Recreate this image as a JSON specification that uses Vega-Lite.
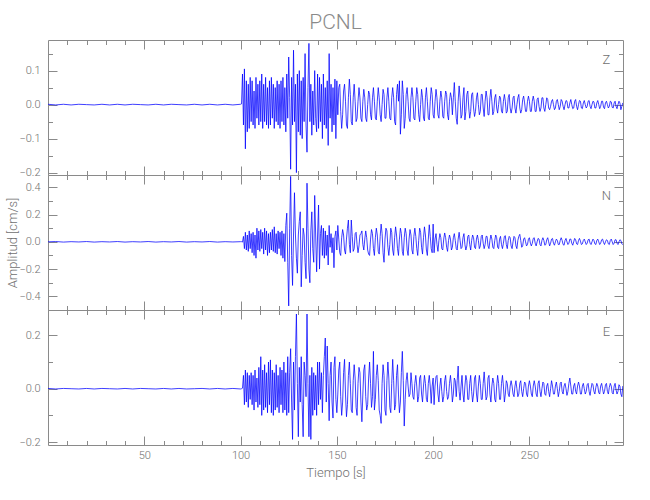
{
"$schema": "https://vega.github.io/schema/vega-lite/v6.json",
"background": "white",
"padding": {"left": 6, "right": 5, "top": 11, "bottom": 5},
"spacing": 0,
"bounds": "flush",
"config": {
 "view": {"stroke": "#8a8a8a", "strokeWidth": 1},
 "axis": {"domain": false, "grid": false, "tickColor": "#8a8a8a", "tickWidth": 1, "labelColor": "#707070", "labelFont": "Roboto", "labelFontWeight": 300, "labelFontSize": 11, "titleColor": "#707070", "titleFont": "Roboto", "titleFontWeight": 300, "titleFontSize": 13, "minExtent": 0}
},
"data": {"values": [
{"t":0,"z":0.001,"n":0,"e":0.001},{"t":4,"z":-0.001,"n":0.002,"e":-0.001},{"t":8,"z":0.001,"n":-0.002,"e":0.001},{"t":12,"z":-0.001,"n":0.001,"e":0},{"t":16,"z":0.001,"n":-0.001,"e":-0.001},{"t":20,"z":0,"n":0.002,"e":0.001},{"t":24,"z":-0.001,"n":-0.002,"e":-0.001},{"t":28,"z":0.001,"n":0.001,"e":0.001},{"t":32,"z":-0.001,"n":-0.001,"e":0},{"t":36,"z":0.001,"n":0.002,"e":-0.001},{"t":40,"z":-0.001,"n":-0.002,"e":0.001},{"t":44,"z":0.001,"n":0.001,"e":-0.001},{"t":48,"z":0,"n":-0.001,"e":0.001},{"t":52,"z":-0.001,"n":0.002,"e":0},{"t":56,"z":0.001,"n":-0.002,"e":-0.001},{"t":60,"z":-0.001,"n":0.001,"e":0.001},{"t":64,"z":0.001,"n":-0.001,"e":-0.001},{"t":68,"z":0,"n":0.002,"e":0.001},{"t":72,"z":-0.001,"n":-0.002,"e":-0.001},{"t":76,"z":0.001,"n":0.001,"e":0},{"t":80,"z":-0.001,"n":-0.001,"e":0.001},{"t":84,"z":0.001,"n":0.002,"e":-0.001},{"t":88,"z":-0.001,"n":-0.002,"e":0.001},{"t":92,"z":0.001,"n":0.001,"e":-0.001},{"t":96,"z":-0.001,"n":-0.001,"e":0.001},{"t":100,"z":0.001,"n":0.001,"e":-0.001},
{"t":100.5,"z":0.002,"n":0.001,"e":0},{"t":101,"z":0.09,"n":-0.002,"e":0.002},{"t":101.5,"z":-0.06,"n":0.04,"e":0.05},{"t":102,"z":0.105,"n":-0.05,"e":-0.06},{"t":102.5,"z":-0.13,"n":0.07,"e":0.07},{"t":103,"z":0.07,"n":-0.06,"e":-0.05},{"t":103.5,"z":-0.08,"n":0.05,"e":0.06},{"t":104,"z":0.06,"n":-0.07,"e":-0.07},{"t":104.5,"z":-0.07,"n":0.08,"e":0.05},{"t":105,"z":0.08,"n":-0.05,"e":-0.04},
{"t":105.5,"z":-0.05,"n":0.06,"e":0.06},{"t":106,"z":0.07,"n":-0.08,"e":-0.06},{"t":106.5,"z":-0.06,"n":0.07,"e":0.05},{"t":107,"z":0.04,"n":-0.1,"e":-0.08},{"t":107.5,"z":-0.07,"n":0.05,"e":0.07},{"t":108,"z":0.08,"n":-0.12,"e":-0.05},{"t":108.5,"z":-0.04,"n":0.1,"e":0.04},{"t":109,"z":0.06,"n":-0.06,"e":-0.07},{"t":109.5,"z":-0.06,"n":0.08,"e":0.08},{"t":110,"z":0.07,"n":-0.07,"e":-0.06},
{"t":110.5,"z":-0.05,"n":0.09,"e":0.12},{"t":111,"z":0.09,"n":-0.05,"e":-0.1},{"t":111.5,"z":-0.07,"n":0.07,"e":0.07},{"t":112,"z":0.06,"n":-0.09,"e":-0.08},{"t":112.5,"z":-0.05,"n":0.1,"e":0.09},{"t":113,"z":0.08,"n":-0.06,"e":-0.07},{"t":113.5,"z":-0.06,"n":0.08,"e":0.06},{"t":114,"z":0.05,"n":-0.1,"e":-0.09},{"t":114.5,"z":-0.07,"n":0.06,"e":0.1},{"t":115,"z":0.07,"n":-0.08,"e":-0.06},
{"t":115.5,"z":-0.06,"n":0.07,"e":0.108},{"t":116,"z":0.08,"n":-0.06,"e":-0.09},{"t":116.5,"z":-0.04,"n":0.09,"e":0.07},{"t":117,"z":0.06,"n":-0.07,"e":-0.1},{"t":117.5,"z":-0.07,"n":0.11,"e":0.06},{"t":118,"z":0.05,"n":-0.08,"e":-0.08},{"t":118.5,"z":-0.05,"n":0.06,"e":0.09},{"t":119,"z":0.07,"n":-0.09,"e":-0.07},{"t":119.5,"z":-0.06,"n":0.08,"e":0.05},{"t":120,"z":0.06,"n":-0.05,"e":-0.09},
{"t":120.5,"z":-0.07,"n":0.07,"e":0.08},{"t":121,"z":0.07,"n":-0.1,"e":-0.06},{"t":121.5,"z":-0.05,"n":0.08,"e":0.07},{"t":122,"z":0.08,"n":-0.12,"e":-0.09},{"t":122.5,"z":-0.06,"n":0.06,"e":0.1},{"t":123,"z":0.05,"n":-0.145,"e":-0.08},{"t":123.5,"z":-0.08,"n":0.12,"e":0.06},{"t":124,"z":0.09,"n":0.21,"e":-0.1},{"t":124.5,"z":-0.04,"n":-0.15,"e":0.12},{"t":125,"z":0.14,"n":-0.47,"e":-0.09},
{"t":125.5,"z":0.02,"n":0.1,"e":0.06},{"t":126,"z":-0.19,"n":0.48,"e":0.15},{"t":126.5,"z":0.08,"n":-0.1,"e":-0.05},{"t":127,"z":-0.06,"n":-0.32,"e":-0.19},{"t":127.5,"z":0.16,"n":0.05,"e":0.1},{"t":128,"z":-0.05,"n":0.36,"e":-0.08},{"t":128.5,"z":0.06,"n":0.05,"e":0.12},{"t":129,"z":-0.2,"n":-0.12,"e":0.28},{"t":129.5,"z":0.09,"n":-0.23,"e":0.02},{"t":130,"z":-0.08,"n":0.05,"e":-0.18},
{"t":130.5,"z":0.1,"n":0.15,"e":0.08},{"t":131,"z":-0.09,"n":0.22,"e":-0.05},{"t":131.5,"z":0.07,"n":-0.33,"e":0.12},{"t":132,"z":-0.1,"n":-0.1,"e":-0.06},{"t":132.5,"z":0.08,"n":0.1,"e":-0.18},{"t":133,"z":-0.05,"n":0.05,"e":0.1},{"t":133.5,"z":0.15,"n":-0.15,"e":0.05},{"t":134,"z":-0.06,"n":-0.27,"e":-0.03},{"t":134.5,"z":-0.14,"n":0.43,"e":0.28},{"t":135,"z":0.05,"n":0.1,"e":0.02},
{"t":135.5,"z":0.18,"n":-0.2,"e":-0.18},{"t":136,"z":-0.05,"n":-0.3,"e":0.05},{"t":136.5,"z":0.06,"n":0.08,"e":-0.19},{"t":137,"z":-0.09,"n":0.22,"e":0.08},{"t":137.5,"z":0.04,"n":-0.05,"e":-0.1},{"t":138,"z":-0.06,"n":-0.15,"e":0.06},{"t":138.5,"z":0.1,"n":0.34,"e":-0.08},{"t":139,"z":-0.04,"n":0.05,"e":0.05},{"t":139.5,"z":-0.08,"n":-0.22,"e":-0.1},{"t":140,"z":0.09,"n":0.05,"e":0.1},
{"t":140.5,"z":-0.07,"n":0.27,"e":-0.06},{"t":141,"z":0.08,"n":-0.2,"e":0.1},{"t":141.5,"z":-0.05,"n":0.06,"e":-0.04},{"t":142,"z":0.06,"n":0.12,"e":0.06},{"t":142.5,"z":-0.1,"n":-0.1,"e":-0.09},{"t":143,"z":0.09,"n":0.1,"e":0.05},{"t":143.5,"z":-0.06,"n":-0.12,"e":0.12},{"t":144,"z":0.05,"n":0.08,"e":0.19},{"t":144.5,"z":-0.07,"n":-0.1,"e":-0.05},{"t":145,"z":0.07,"n":0.05,"e":0.16},
{"t":145.5,"z":-0.12,"n":-0.17,"e":0.02},{"t":146,"z":0.15,"n":0.12,"e":-0.12},{"t":146.5,"z":-0.04,"n":-0.04,"e":0.05},{"t":147,"z":0.06,"n":0.06,"e":0.1},{"t":147.5,"z":-0.08,"n":-0.08,"e":-0.05},{"t":148,"z":0.05,"n":0.03,"e":-0.11},{"t":148.5,"z":-0.06,"n":-0.19,"e":0.08},{"t":149,"z":0.075,"n":0.04,"e":0.12},{"t":149.5,"z":-0.1,"n":0.08,"e":-0.04},{"t":150,"z":0.07,"n":-0.06,"e":-0.09},
{"t":150.5,"z":-0.03,"n":0.12,"e":-0.02},{"t":151,"z":0.05,"n":0.02,"e":0.07},{"t":151.5,"z":0.06,"n":-0.08,"e":0.1},{"t":152,"z":-0.02,"n":-0.1,"e":-0.03},{"t":152.5,"z":-0.07,"n":0.03,"e":-0.1},{"t":153,"z":-0.03,"n":0.09,"e":-0.05},{"t":153.5,"z":0.04,"n":0.05,"e":0.06},{"t":154,"z":0.06,"n":-0.06,"e":0.11},{"t":154.5,"z":0.01,"n":-0.09,"e":-0.02},{"t":155,"z":-0.06,"n":0.02,"e":-0.105},
{"t":155.5,"z":-0.07,"n":0.1,"e":-0.06},{"t":156,"z":0.02,"n":0.16,"e":0.05},{"t":156.5,"z":0.075,"n":-0.02,"e":0.1},{"t":157,"z":0.03,"n":-0.08,"e":0.02},{"t":157.5,"z":-0.05,"n":0.16,"e":-0.08},{"t":158,"z":-0.06,"n":0.04,"e":-0.09},{"t":158.5,"z":0.02,"n":-0.07,"e":0.03},{"t":159,"z":0.06,"n":-0.05,"e":0.09},{"t":159.5,"z":0.01,"n":0.06,"e":0.04},{"t":160,"z":-0.05,"n":0.07,"e":-0.07},
{"t":160.5,"z":-0.04,"n":-0.02,"e":-0.1},{"t":161,"z":0.01,"n":-0.08,"e":0.02},{"t":161.5,"z":0.05,"n":-0.03,"e":0.08},{"t":162,"z":0.02,"n":0.05,"e":0.06},{"t":162.5,"z":-0.04,"n":0.06,"e":-0.05},{"t":163,"z":-0.05,"n":0.08,"e":-0.124},{"t":163.5,"z":0.01,"n":-0.02,"e":-0.02},{"t":164,"z":0.045,"n":-0.06,"e":0.07},{"t":164.5,"z":0.02,"n":0.02,"e":0.09},{"t":165,"z":-0.04,"n":0.08,"e":-0.03},
{"t":165.5,"z":-0.05,"n":0.03,"e":-0.08},{"t":166,"z":0,"n":-0.06,"e":-0.06},{"t":166.5,"z":0.04,"n":-0.09,"e":0.04},{"t":167,"z":0.03,"n":-0.1,"e":0.1},{"t":167.5,"z":-0.03,"n":0.02,"e":0.02},{"t":168,"z":-0.045,"n":0.09,"e":-0.07},{"t":168.5,"z":0.02,"n":0.06,"e":-0.03},{"t":169,"z":0.05,"n":-0.05,"e":0.14},{"t":169.5,"z":0.01,"n":-0.1,"e":-0.08},{"t":170,"z":-0.04,"n":0.03,"e":-0.04},
{"t":170.5,"z":-0.045,"n":0.1,"e":0.05},{"t":171,"z":0.01,"n":0.05,"e":0.09},{"t":171.5,"z":0.05,"n":-0.07,"e":0.03},{"t":172,"z":0.02,"n":-0.09,"e":-0.08},{"t":172.5,"z":-0.03,"n":0.04,"e":-0.1},{"t":173,"z":-0.05,"n":0.13,"e":-0.13},{"t":173.5,"z":0,"n":0.06,"e":0.02},{"t":174,"z":0.045,"n":-0.08,"e":0.09},{"t":174.5,"z":0.03,"n":-0.15,"e":0.05},{"t":175,"z":-0.04,"n":0.02,"e":-0.08},
{"t":175.5,"z":-0.04,"n":0.1,"e":-0.1},{"t":176,"z":0.02,"n":0.08,"e":0.03},{"t":176.5,"z":0.05,"n":-0.04,"e":0.1},{"t":177,"z":0.01,"n":-0.1,"e":0.04},{"t":177.5,"z":-0.04,"n":-0.02,"e":-0.07},{"t":178,"z":-0.045,"n":0.1,"e":-0.09},{"t":178.5,"z":0.02,"n":0.07,"e":0.02},{"t":179,"z":0.05,"n":-0.06,"e":0.11},{"t":179.5,"z":0.02,"n":-0.1,"e":0.03},{"t":180,"z":-0.05,"n":0.03,"e":-0.08},
{"t":180.5,"z":-0.06,"n":0.11,"e":-0.06},{"t":181,"z":0.03,"n":0.05,"e":0.05},{"t":181.5,"z":0.06,"n":-0.05,"e":0.09},{"t":182,"z":0.01,"n":-0.1,"e":-0.02},{"t":182.5,"z":0.07,"n":0.02,"e":-0.09},{"t":183,"z":-0.087,"n":0.1,"e":-0.05},{"t":183.5,"z":-0.03,"n":0.06,"e":0.06},{"t":184,"z":0.07,"n":-0.07,"e":0.14},{"t":184.5,"z":0.03,"n":-0.1,"e":0.03},{"t":185,"z":-0.07,"n":0.03,"e":-0.14},
{"t":185.5,"z":-0.04,"n":0.1,"e":-0.04},{"t":186,"z":0.03,"n":0.06,"e":0.03},{"t":186.5,"z":0.05,"n":-0.06,"e":0.06},{"t":187,"z":0.01,"n":-0.1,"e":0.01},{"t":187.5,"z":-0.04,"n":0.02,"e":-0.03},{"t":188,"z":-0.05,"n":0.09,"e":-0.02},{"t":188.5,"z":0.02,"n":0.05,"e":0.06},{"t":189,"z":0.05,"n":-0.06,"e":0.02},{"t":189.5,"z":0.02,"n":-0.09,"e":-0.03},{"t":190,"z":-0.04,"n":0.04,"e":-0.04},
{"t":190.5,"z":-0.045,"n":0.1,"e":0.02},{"t":191,"z":0.01,"n":0.04,"e":0.05},{"t":191.5,"z":0.05,"n":-0.05,"e":0.01},{"t":192,"z":0.03,"n":-0.1,"e":-0.05},{"t":192.5,"z":-0.03,"n":0.01,"e":-0.03},{"t":193,"z":-0.05,"n":0.1,"e":0.04},{"t":193.5,"z":0,"n":0.07,"e":0.05},{"t":194,"z":0.045,"n":-0.04,"e":-0.02},{"t":194.5,"z":0.02,"n":-0.09,"e":-0.05},{"t":195,"z":-0.04,"n":0.03,"e":0.01},
{"t":195.5,"z":-0.048,"n":0.11,"e":0.05},{"t":196,"z":0.02,"n":0.05,"e":0.02},{"t":196.5,"z":0.05,"n":-0.06,"e":-0.04},{"t":197,"z":0.01,"n":-0.1,"e":-0.05},{"t":197.5,"z":-0.04,"n":0.02,"e":0.02},{"t":198,"z":-0.045,"n":0.125,"e":0.05},{"t":198.5,"z":0.01,"n":0.04,"e":0.01},{"t":199,"z":0.05,"n":-0.05,"e":-0.055},{"t":199.5,"z":0.03,"n":-0.08,"e":0.01},{"t":200,"z":-0.03,"n":0.13,"e":0.04},
{"t":200.5,"z":-0.04,"n":-0.08,"e":-0.06},{"t":201,"z":0.01,"n":0.02,"e":0.01},{"t":201.5,"z":0.045,"n":0.06,"e":0.045},{"t":202,"z":0.02,"n":-0.02,"e":0.05},{"t":202.5,"z":-0.03,"n":-0.07,"e":-0.02},{"t":203,"z":-0.04,"n":0.01,"e":-0.05},{"t":203.5,"z":0.01,"n":0.06,"e":0.01},{"t":204,"z":0.04,"n":0.03,"e":0.04},{"t":204.5,"z":0.02,"n":-0.05,"e":-0.01},{"t":205,"z":-0.035,"n":-0.06,"e":-0.05},
{"t":205.5,"z":-0.04,"n":0.02,"e":-0.03},{"t":206,"z":0.01,"n":0.065,"e":0.03},{"t":206.5,"z":0.04,"n":0.03,"e":0.05},{"t":207,"z":0.03,"n":-0.04,"e":-0.01},{"t":207.5,"z":-0.03,"n":-0.07,"e":-0.04},{"t":208,"z":-0.045,"n":0.01,"e":-0.03},{"t":208.5,"z":0.01,"n":0.05,"e":0.02},{"t":209,"z":0.035,"n":0.02,"e":0.05},{"t":209.5,"z":0.02,"n":-0.06,"e":0.01},{"t":210,"z":-0.03,"n":-0.04,"e":-0.05},
{"t":210.5,"z":0.02,"n":0.03,"e":-0.02},{"t":211,"z":0.065,"n":0.06,"e":0.04},{"t":211.5,"z":0.01,"n":0.01,"e":0.03},{"t":212,"z":-0.04,"n":-0.05,"e":-0.03},{"t":212.5,"z":-0.058,"n":-0.06,"e":0.03},{"t":213,"z":0.01,"n":0.02,"e":0.085},{"t":213.5,"z":0.055,"n":0.07,"e":-0.01},{"t":214,"z":0.02,"n":0.01,"e":-0.043},{"t":214.5,"z":-0.04,"n":-0.05,"e":0.01},{"t":215,"z":-0.03,"n":-0.04,"e":0.05},
{"t":215.5,"z":0.02,"n":0.03,"e":-0.02},{"t":216,"z":0.05,"n":0.06,"e":-0.05},{"t":216.5,"z":-0.045,"n":-0.02,"e":0.01},{"t":217,"z":-0.02,"n":-0.06,"e":0.05},{"t":217.5,"z":0.03,"n":-0.03,"e":0.03},{"t":218,"z":0.04,"n":0.04,"e":-0.04},{"t":218.5,"z":-0.01,"n":0.05,"e":-0.04},{"t":219,"z":-0.04,"n":-0.02,"e":0.02},{"t":219.5,"z":-0.02,"n":-0.06,"e":0.05},{"t":220,"z":0.03,"n":0.01,"e":-0.01},
{"t":220.5,"z":0.035,"n":0.05,"e":-0.05},{"t":221,"z":-0.01,"n":0.03,"e":-0.02},{"t":221.5,"z":-0.035,"n":-0.04,"e":0.04},{"t":222,"z":-0.02,"n":-0.05,"e":0.05},{"t":222.5,"z":0.02,"n":0.02,"e":-0.02},{"t":223,"z":0.035,"n":0.05,"e":-0.05},{"t":223.5,"z":0,"n":0.01,"e":0.01},{"t":224,"z":-0.03,"n":-0.05,"e":0.05},{"t":224.5,"z":-0.02,"n":-0.03,"e":0.02},{"t":225,"z":0.03,"n":0.04,"e":-0.04},
{"t":225.5,"z":0.03,"n":0.05,"e":-0.04},{"t":226,"z":-0.01,"n":-0.01,"e":0.02},{"t":226.5,"z":-0.035,"n":-0.05,"e":0.063},{"t":227,"z":0.01,"n":-0.02,"e":0.01},{"t":227.5,"z":0.04,"n":0.04,"e":-0.042},{"t":228,"z":0.02,"n":0.04,"e":-0.03},{"t":228.5,"z":-0.03,"n":-0.03,"e":0.04},{"t":229,"z":-0.03,"n":-0.05,"e":0.05},{"t":229.5,"z":0.02,"n":0.01,"e":-0.02},{"t":230,"z":0.045,"n":0.05,"e":-0.05},
{"t":230.5,"z":0.01,"n":0.02,"e":0.01},{"t":231,"z":-0.03,"n":-0.04,"e":0.04},{"t":231.5,"z":-0.02,"n":-0.05,"e":0.02},{"t":232,"z":0.02,"n":0.01,"e":-0.04},{"t":232.5,"z":0.03,"n":0.05,"e":-0.05},{"t":233,"z":-0.01,"n":0.03,"e":0.01},{"t":233.5,"z":-0.025,"n":-0.04,"e":0.05},{"t":234,"z":0,"n":-0.05,"e":0.02},{"t":234.5,"z":0.025,"n":0.02,"e":-0.04},{"t":235,"z":0.02,"n":0.04,"e":-0.04},
{"t":235.5,"z":-0.02,"n":-0.02,"e":0.02},{"t":236,"z":-0.025,"n":-0.05,"e":0.05},{"t":236.5,"z":0.01,"n":-0.01,"e":0.01},{"t":237,"z":0.03,"n":0.04,"e":-0.05},{"t":237.5,"z":0.01,"n":0.045,"e":-0.02},{"t":238,"z":-0.025,"n":-0.02,"e":0.03},{"t":238.5,"z":-0.02,"n":-0.05,"e":0.02},{"t":239,"z":0.02,"n":0.01,"e":-0.02},{"t":239.5,"z":0.03,"n":0.04,"e":-0.03},{"t":240,"z":-0.01,"n":0.03,"e":0.01},
{"t":240.5,"z":-0.025,"n":-0.03,"e":0.03},{"t":241,"z":-0.01,"n":-0.05,"e":0.01},{"t":241.5,"z":0.02,"n":0,"e":-0.02},{"t":242,"z":0.025,"n":0.04,"e":-0.03},{"t":242.5,"z":-0.01,"n":0.03,"e":0.01},{"t":243,"z":-0.025,"n":-0.03,"e":0.03},{"t":243.5,"z":0,"n":-0.05,"e":0},{"t":244,"z":0.02,"n":0.01,"e":-0.03},{"t":244.5,"z":0.03,"n":0.04,"e":-0.02},{"t":245,"z":-0.01,"n":0.055,"e":0.02},
{"t":245.5,"z":-0.025,"n":0.01,"e":0.03},{"t":246,"z":-0.015,"n":-0.04,"e":-0.01},{"t":246.5,"z":0.015,"n":-0.03,"e":-0.03},{"t":247,"z":0.025,"n":0.02,"e":0},{"t":247.5,"z":0.005,"n":0.03,"e":0.025},{"t":248,"z":-0.02,"n":0,"e":0.02},{"t":248.5,"z":-0.02,"n":-0.03,"e":-0.02},{"t":249,"z":0.01,"n":-0.02,"e":-0.03},{"t":249.5,"z":0.025,"n":0.02,"e":0.01},{"t":250,"z":0.01,"n":0.03,"e":0.03},
{"t":250.5,"z":-0.02,"n":-0.01,"e":0.01},{"t":251,"z":-0.02,"n":-0.03,"e":-0.02},{"t":251.5,"z":0.01,"n":-0.01,"e":-0.03},{"t":252,"z":0.025,"n":0.025,"e":0.01},{"t":252.5,"z":0.01,"n":0.03,"e":0.03},{"t":253,"z":-0.02,"n":-0.01,"e":0.01},{"t":253.5,"z":-0.02,"n":-0.03,"e":-0.02},{"t":254,"z":0.015,"n":0,"e":-0.03},{"t":254.5,"z":0.02,"n":0.025,"e":0.02},{"t":255,"z":-0.005,"n":0.02,"e":0.03},
{"t":255.5,"z":-0.02,"n":-0.02,"e":-0.01},{"t":256,"z":-0.01,"n":-0.03,"e":-0.03},{"t":256.5,"z":0.02,"n":0.01,"e":0},{"t":257,"z":0.02,"n":0.03,"e":0.025},{"t":257.5,"z":-0.01,"n":0.01,"e":0.02},{"t":258,"z":-0.02,"n":-0.025,"e":-0.02},{"t":258.5,"z":0,"n":-0.02,"e":-0.025},{"t":259,"z":0.02,"n":0.015,"e":0.01},{"t":259.5,"z":0.015,"n":0.03,"e":0.02},{"t":260,"z":-0.01,"n":0,"e":-0.01},
{"t":260.5,"z":-0.015,"n":-0.03,"e":-0.03},{"t":261,"z":-0.005,"n":-0.01,"e":0},{"t":261.5,"z":0.01,"n":0.02,"e":0.03},{"t":262,"z":0.015,"n":0.025,"e":0.01},{"t":262.5,"z":0,"n":-0.01,"e":-0.02},{"t":263,"z":-0.015,"n":-0.025,"e":-0.02},{"t":263.5,"z":-0.01,"n":0,"e":0.01},{"t":264,"z":0.01,"n":0.02,"e":0.025},{"t":264.5,"z":0.015,"n":0.01,"e":0},{"t":265,"z":0,"n":-0.02,"e":-0.03},
{"t":265.5,"z":-0.015,"n":-0.02,"e":-0.01},{"t":266,"z":-0.005,"n":0.01,"e":0.02},{"t":266.5,"z":0.015,"n":0.03,"e":0.025},{"t":267,"z":0.01,"n":0.01,"e":-0.01},{"t":267.5,"z":-0.005,"n":-0.02,"e":-0.02},{"t":268,"z":-0.015,"n":-0.025,"e":0.01},{"t":268.5,"z":0,"n":0.01,"e":0.02},{"t":269,"z":0.012,"n":0.025,"e":0},{"t":269.5,"z":0.01,"n":0,"e":-0.025},{"t":270,"z":-0.01,"n":-0.02,"e":-0.01},
{"t":270.5,"z":-0.01,"n":-0.01,"e":0.02},{"t":271,"z":0.005,"n":0.02,"e":0.04},{"t":271.5,"z":0.015,"n":0.02,"e":0.01},{"t":272,"z":0,"n":-0.01,"e":-0.02},{"t":272.5,"z":-0.012,"n":-0.025,"e":-0.02},{"t":273,"z":-0.01,"n":0,"e":0.01},{"t":273.5,"z":0.01,"n":0.025,"e":0.02},{"t":274,"z":0.015,"n":0.015,"e":-0.01},{"t":274.5,"z":-0.005,"n":-0.015,"e":-0.02},{"t":275,"z":-0.015,"n":-0.02,"e":0.01},
{"t":275.5,"z":0,"n":0.01,"e":0.025},{"t":276,"z":0.012,"n":0.025,"e":0.01},{"t":276.5,"z":0.01,"n":0.005,"e":-0.02},{"t":277,"z":-0.01,"n":-0.02,"e":-0.02},{"t":277.5,"z":-0.012,"n":-0.015,"e":0.01},{"t":278,"z":0.005,"n":0.01,"e":0.02},{"t":278.5,"z":0.012,"n":0.02,"e":0},{"t":279,"z":0,"n":0,"e":-0.02},{"t":279.5,"z":-0.01,"n":-0.02,"e":-0.01},{"t":280,"z":-0.005,"n":-0.01,"e":0.015},
{"t":280.5,"z":0.01,"n":0.015,"e":0.02},{"t":281,"z":0.012,"n":0.02,"e":-0.01},{"t":281.5,"z":-0.005,"n":-0.01,"e":-0.025},{"t":282,"z":-0.012,"n":-0.02,"e":0},{"t":282.5,"z":0,"n":0,"e":0.02},{"t":283,"z":0.01,"n":0.02,"e":0.015},{"t":283.5,"z":0.008,"n":0.01,"e":-0.01},{"t":284,"z":-0.01,"n":-0.015,"e":-0.02},{"t":284.5,"z":-0.01,"n":-0.02,"e":0.005},{"t":285,"z":0.005,"n":0.01,"e":0.02},
{"t":285.5,"z":0.012,"n":0.02,"e":0.01},{"t":286,"z":0,"n":0,"e":-0.015},{"t":286.5,"z":-0.012,"n":-0.02,"e":-0.02},{"t":287,"z":-0.005,"n":-0.01,"e":0.01},{"t":287.5,"z":0.01,"n":0.015,"e":0.02},{"t":288,"z":0.01,"n":0.02,"e":0},{"t":288.5,"z":-0.008,"n":-0.005,"e":-0.02},{"t":289,"z":-0.012,"n":-0.02,"e":-0.01},{"t":289.5,"z":0.005,"n":0,"e":0.015},{"t":290,"z":0.01,"n":0.015,"e":0.02},
{"t":290.5,"z":0,"n":0.01,"e":-0.01},{"t":291,"z":-0.01,"n":-0.015,"e":-0.02},{"t":291.5,"z":-0.005,"n":-0.02,"e":0.005},{"t":292,"z":0.01,"n":0.01,"e":0.02},{"t":292.5,"z":0.008,"n":0.02,"e":0.01},{"t":293,"z":-0.008,"n":0,"e":-0.015},{"t":293.5,"z":-0.01,"n":-0.02,"e":-0.02},{"t":294,"z":0.005,"n":-0.01,"e":0.01},{"t":294.5,"z":0.01,"n":0.015,"e":0.02},{"t":295,"z":-0.005,"n":0.015,"e":-0.005},
{"t":295.5,"z":-0.012,"n":-0.01,"e":-0.02},{"t":296,"z":0,"n":-0.02,"e":-0.01},{"t":296.5,"z":0.01,"n":0,"e":0.015},{"t":297,"z":0.005,"n":0.015,"e":0.01},{"t":297.5,"z":-0.015,"n":0.01,"e":-0.02},{"t":298,"z":-0.005,"n":-0.015,"e":-0.03},{"t":298.5,"z":0.005,"n":-0.02,"e":0.01}
]},
"vconcat": [
 {
  "width": 575, "height": 135,
  "title": {"text": "PCNL", "frame": "group", "anchor": "middle", "fontSize": 21, "font": "Roboto", "fontWeight": 300, "color": "#8a8a8a", "offset": 7},
  "layer": [
   {"mark": {"type": "line", "stroke": "#0000ff", "strokeWidth": 0.75, "clip": true},
    "encoding": {
     "x": {"field": "t", "type": "quantitative", "scale": {"domain": [0, 298.6], "nice": false, "zero": false},
      "axis": {"orient": "bottom", "values": [10,20,30,40,50,60,70,80,90,100,110,120,130,140,150,160,170,180,190,200,210,220,230,240,250,260,270,280,290], "labels": false, "title": null, "tickSize": {"condition": {"test": "datum.value % 50 === 0", "value": -9}, "value": -4.5}}},
     "y": {"field": "z", "type": "quantitative", "scale": {"domain": [-0.207, 0.19], "nice": false, "zero": false},
      "axis": {"orient": "left", "values": [-0.2,-0.15,-0.1,-0.05,0,0.05,0.1,0.15], "format": ".1f", "labelExpr": "round(datum.value*20) % 2 === 0 ? datum.label : ''", "title": null, "labelPadding": 17, "tickSize": {"condition": {"test": "round(datum.value*20) % 2 === 0", "value": -9}, "value": -4.5}}}
    }},
   {"mark": {"type": "line", "strokeOpacity": 0},
    "encoding": {
     "x": {"field": "t", "type": "quantitative", "axis": {"orient": "top", "values": [10,20,30,40,50,60,70,80,90,100,110,120,130,140,150,160,170,180,190,200,210,220,230,240,250,260,270,280,290], "labels": false, "title": null, "tickSize": {"condition": {"test": "datum.value % 50 === 0", "value": -9}, "value": -4.5}}},
     "y": {"field": "z", "type": "quantitative", "axis": {"orient": "right", "values": [-0.2,-0.15,-0.1,-0.05,0,0.05,0.1,0.15], "labels": false, "title": null, "tickSize": {"condition": {"test": "round(datum.value*20) % 2 === 0", "value": -9}, "value": -4.5}}}
    }},
   {"data": {"values": [{"label": "Z"}]},
    "mark": {"type": "text", "font": "Roboto", "fontWeight": 300, "fontSize": 13, "color": "#707070", "align": "center", "baseline": "middle"},
    "encoding": {"x": {"datum": 290, "type": "quantitative", "axis": null}, "y": {"datum": 0.13, "type": "quantitative", "axis": null}, "text": {"field": "label"}}}
  ],
  "resolve": {"axis": {"x": "independent", "y": "independent"}}
 },
 {
  "width": 575, "height": 135,
  "layer": [
   {"mark": {"type": "line", "stroke": "#0000ff", "strokeWidth": 0.75, "clip": true},
    "encoding": {
     "x": {"field": "t", "type": "quantitative", "scale": {"domain": [0, 298.6], "nice": false, "zero": false},
      "axis": {"orient": "bottom", "values": [10,20,30,40,50,60,70,80,90,100,110,120,130,140,150,160,170,180,190,200,210,220,230,240,250,260,270,280,290], "labels": false, "title": null, "tickSize": {"condition": {"test": "datum.value % 50 === 0", "value": -9}, "value": -4.5}}},
     "y": {"field": "n", "type": "quantitative", "scale": {"domain": [-0.5, 0.49], "nice": false, "zero": false},
      "axis": {"orient": "left", "values": [-0.5,-0.4,-0.3,-0.2,-0.1,0,0.1,0.2,0.3,0.4], "format": ".1f", "labelExpr": "round(datum.value*10) % 2 === 0 && datum.value > -0.45 ? datum.label : ''", "title": "Amplitud [cm/s]", "titlePadding": -1, "labelPadding": 17, "tickSize": {"condition": {"test": "round(datum.value*10) % 2 === 0", "value": -9}, "value": -4.5}}}
    }},
   {"mark": {"type": "line", "strokeOpacity": 0},
    "encoding": {
     "x": {"field": "t", "type": "quantitative", "axis": {"orient": "top", "values": [10,20,30,40,50,60,70,80,90,100,110,120,130,140,150,160,170,180,190,200,210,220,230,240,250,260,270,280,290], "labels": false, "title": null, "tickSize": {"condition": {"test": "datum.value % 50 === 0", "value": -9}, "value": -4.5}}},
     "y": {"field": "n", "type": "quantitative", "axis": {"orient": "right", "values": [-0.5,-0.4,-0.3,-0.2,-0.1,0,0.1,0.2,0.3,0.4], "labels": false, "title": null, "tickSize": {"condition": {"test": "round(datum.value*10) % 2 === 0", "value": -9}, "value": -4.5}}}
    }},
   {"data": {"values": [{"label": "N"}]},
    "mark": {"type": "text", "font": "Roboto", "fontWeight": 300, "fontSize": 13, "color": "#707070", "align": "center", "baseline": "middle"},
    "encoding": {"x": {"datum": 290, "type": "quantitative", "axis": null}, "y": {"datum": 0.335, "type": "quantitative", "axis": null}, "text": {"field": "label"}}}
  ],
  "resolve": {"axis": {"x": "independent", "y": "independent"}}
 },
 {
  "width": 575, "height": 135,
  "layer": [
   {"mark": {"type": "line", "stroke": "#0000ff", "strokeWidth": 0.75, "clip": true},
    "encoding": {
     "x": {"field": "t", "type": "quantitative", "scale": {"domain": [0, 298.6], "nice": false, "zero": false},
      "axis": {"orient": "bottom", "values": [10,20,30,40,50,60,70,80,90,100,110,120,130,140,150,160,170,180,190,200,210,220,230,240,250,260,270,280,290], "labelExpr": "datum.value % 50 === 0 ? datum.label : ''", "labelPadding": 13, "title": "Tiempo [s]", "titlePadding": 6, "tickSize": {"condition": {"test": "datum.value % 50 === 0", "value": -9}, "value": -4.5}}},
     "y": {"field": "e", "type": "quantitative", "scale": {"domain": [-0.211, 0.295], "nice": false, "zero": false},
      "axis": {"orient": "left", "values": [-0.2,-0.1,0,0.1,0.2], "format": ".1f", "labelExpr": "round(datum.value*10) % 2 === 0 ? datum.label : ''", "title": null, "labelPadding": 17, "tickSize": {"condition": {"test": "round(datum.value*10) % 2 === 0", "value": -9}, "value": -4.5}}}
    }},
   {"mark": {"type": "line", "strokeOpacity": 0},
    "encoding": {
     "x": {"field": "t", "type": "quantitative", "axis": {"orient": "top", "values": [10,20,30,40,50,60,70,80,90,100,110,120,130,140,150,160,170,180,190,200,210,220,230,240,250,260,270,280,290], "labels": false, "title": null, "tickSize": {"condition": {"test": "datum.value % 50 === 0", "value": -9}, "value": -4.5}}},
     "y": {"field": "e", "type": "quantitative", "axis": {"orient": "right", "values": [-0.2,-0.1,0,0.1,0.2], "labels": false, "title": null, "tickSize": {"condition": {"test": "round(datum.value*10) % 2 === 0", "value": -9}, "value": -4.5}}}
    }},
   {"data": {"values": [{"label": "E"}]},
    "mark": {"type": "text", "font": "Roboto", "fontWeight": 300, "fontSize": 13, "color": "#707070", "align": "center", "baseline": "middle"},
    "encoding": {"x": {"datum": 290, "type": "quantitative", "axis": null}, "y": {"datum": 0.214, "type": "quantitative", "axis": null}, "text": {"field": "label"}}}
  ],
  "resolve": {"axis": {"x": "independent", "y": "independent"}}
 }
]
}
